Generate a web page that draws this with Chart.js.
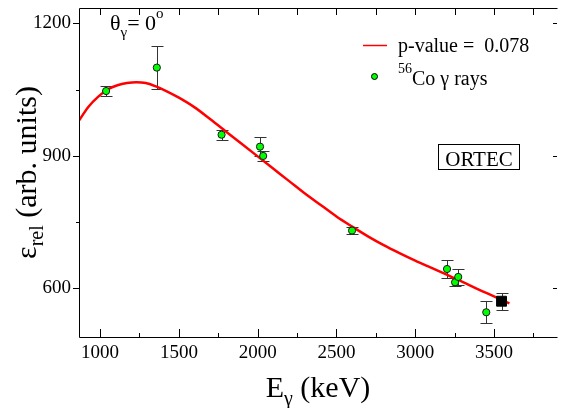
<!DOCTYPE html>
<html>
<head>
<meta charset="utf-8">
<script src="https://cdn.jsdelivr.net/npm/chart.js@4.4.0/dist/chart.umd.min.js"></script>
<style>
    html, body { margin: 0; padding: 0; background: #fff; }
    #wrap { width: 565px; height: 408px; }
    .fontprobe { position: absolute; left: -999px; top: 0; font-family: "Liberation Serif"; }
</style>
</head>
<body>
<span class="fontprobe">1200 ε γ θ ORTEC</span>
<div id="wrap"><canvas id="effChart" width="565" height="408"></canvas></div>
<script>
(function () {
    "use strict";

    // 56Co gamma lines (keV), relative efficiency and its error
    const coEnergies = [1038, 1360, 1771, 2015, 2035, 2599, 3202, 3253, 3273, 3451];
    const coValues   = [1047, 1100, 948, 921, 900, 731, 644, 614, 626, 546];
    const coErrors   = [11, 49, 11, 21, 12, 8, 20, 9, 18, 25];

    // black square point
    const refEnergies = [3548];
    const refValues   = [571];
    const refErrors   = [19];

    // fitted curve
    const fitEnergies = [866, 925, 990, 1050, 1110, 1170, 1230, 1290, 1350, 1420, 1500, 1600, 1700, 1800, 1900,
                         2000, 2100, 2200, 2300, 2400, 2500, 2600, 2700, 2800, 2900, 3000, 3100, 3200, 3300,
                         3400, 3500, 3598];
    const fitValues   = [980, 1011, 1035, 1051, 1060, 1065, 1067, 1065, 1058, 1047, 1032, 1010, 983, 955, 927,
                         899, 871, 843, 815, 789, 763, 740, 718, 698, 680, 663, 647, 631, 615,
                         598, 582, 566];

    const xTicks      = [1000, 1500, 2000, 2500, 3000, 3500];
    const xMinorTicks = [1250, 1750, 2250, 2750, 3250, 3750];
    const yTicks      = [600, 900, 1200];
    const yMinorTicks = [750, 1050];

    const SERIF = "'Liberation Serif', 'DejaVu Serif', serif";
    function font(size) { return size + "px " + SERIF; }

    function toPoints(xs, ys) {
        return xs.map((x, i) => ({ x: x, y: ys[i] }));
    }

    // draws a run of [text, size, yShift] pieces, starting at x or centred on it
    function drawRich(ctx, parts, x, y, centred) {
        let w = 0;
        parts.forEach(p => { ctx.font = font(p[1]); w += ctx.measureText(p[0]).width; });
        let cx = centred ? x - w / 2 : x;
        ctx.textAlign = "left";
        ctx.textBaseline = "alphabetic";
        parts.forEach(p => {
            ctx.font = font(p[1]);
            ctx.fillText(p[0], cx, y + p[2]);
            cx += ctx.measureText(p[0]).width;
        });
    }

    const errorBars = {
        id: "errorBars",
        beforeDatasetsDraw(chart) {
            const ctx = chart.ctx, xs = chart.scales.x, ys = chart.scales.y;
            ctx.save();
            ctx.strokeStyle = "#333";
            ctx.lineWidth = 1;
            function bar(e, v, err) {
                const x  = Math.round(xs.getPixelForValue(e)) + 0.5;
                const y1 = Math.round(ys.getPixelForValue(v + err)) + 0.5;
                const y2 = Math.round(ys.getPixelForValue(v - err)) + 0.5;
                ctx.beginPath();
                ctx.moveTo(x, y1); ctx.lineTo(x, y2);
                ctx.moveTo(x - 6, y1); ctx.lineTo(x + 6, y1);
                ctx.moveTo(x - 6, y2); ctx.lineTo(x + 6, y2);
                ctx.stroke();
            }
            coEnergies.forEach((e, i) => bar(e, coValues[i], coErrors[i]));
            refEnergies.forEach((e, i) => bar(e, refValues[i], refErrors[i]));
            ctx.restore();
        }
    };

    const frameAndText = {
        id: "frameAndText",
        afterDraw(chart) {
            const ctx = chart.ctx, ca = chart.chartArea;
            const xs = chart.scales.x, ys = chart.scales.y;
            ctx.save();
            ctx.strokeStyle = "#000";
            ctx.lineWidth = 1;

            // frame
            ctx.beginPath();
            ctx.moveTo(ca.right + 0.5, ca.top + 0.5);
            ctx.lineTo(ca.left + 0.5, ca.top + 0.5);
            ctx.lineTo(ca.left + 0.5, ca.bottom + 0.5);
            ctx.lineTo(ca.right + 0.5, ca.bottom + 0.5);
            ctx.stroke();

            // tick marks
            ctx.beginPath();
            xTicks.concat(xMinorTicks).forEach(v => {
                const x = Math.round(xs.getPixelForValue(v)) + 0.5;
                const len = xTicks.includes(v) ? 8 : 4;
                ctx.moveTo(x, ca.bottom); ctx.lineTo(x, ca.bottom - len);
                ctx.moveTo(x, ca.top); ctx.lineTo(x, ca.top + 7);
            });
            yTicks.concat(yMinorTicks).forEach(v => {
                const y = Math.round(ys.getPixelForValue(v)) + 0.5;
                const len = yTicks.includes(v) ? 6 : 3;
                ctx.moveTo(ca.left, y); ctx.lineTo(ca.left - len, y);
                if (yTicks.includes(v)) {
                    ctx.moveTo(ca.right, y); ctx.lineTo(ca.right - 4, y);
                }
            });
            ctx.stroke();

            ctx.fillStyle = "#000";

            // axis titles
            ctx.save();
            ctx.translate(36, (ca.top + ca.bottom) / 2);
            ctx.rotate(-Math.PI / 2);
            drawRich(ctx, [["ε", 30, 0], ["rel", 20, 7], [" (arb. units)", 30, 0]], 0, 0, true);
            ctx.restore();
            drawRich(ctx, [["E", 30, 0], ["γ", 20, 8], [" (keV)", 30, 0]], (ca.left + ca.right) / 2, 397, true);

            // angle label
            drawRich(ctx, [["θ", 22, 0], ["γ", 15, 7], ["= 0", 22, 0], ["o", 15, -12]], 110, 30, false);

            // legend
            ctx.strokeStyle = "#ff0000";
            ctx.lineWidth = 1.5;
            ctx.beginPath();
            ctx.moveTo(363, 45.5); ctx.lineTo(387, 45.5);
            ctx.stroke();
            drawRich(ctx, [["p-value =  0.078", 20, 0]], 398, 52, false);

            ctx.beginPath();
            ctx.arc(374.5, 76.5, 3, 0, Math.PI * 2);
            ctx.fillStyle = "#00ff00";
            ctx.fill();
            ctx.strokeStyle = "#000";
            ctx.lineWidth = 1;
            ctx.stroke();
            ctx.fillStyle = "#000";
            drawRich(ctx, [["56", 14, -12], ["Co γ rays", 20, 0]], 398, 85, false);

            // detector box
            ctx.strokeRect(438.5, 144.5, 81, 25);
            drawRich(ctx, [["ORTEC", 21, 0]], 479, 166, true);

            ctx.restore();
        }
    };

    function renderChart() {
        Chart.defaults.font.family = SERIF;
        const ctx = document.getElementById("effChart").getContext("2d");
        new Chart(ctx, {
            type: "scatter",
            data: {
                datasets: [
                    {
                        label: "56Co γ rays",
                        data: toPoints(coEnergies, coValues),
                        pointRadius: 3.6,
                        pointBackgroundColor: "#00ff00",
                        pointBorderColor: "#1a1a1a",
                        pointBorderWidth: 1,
                        order: 0
                    },
                    {
                        label: "reference",
                        data: toPoints(refEnergies, refValues),
                        pointStyle: "rect",
                        pointRadius: 7,
                        pointBackgroundColor: "#000",
                        pointBorderColor: "#000",
                        order: 0
                    },
                    {
                        type: "line",
                        label: "p-value = 0.078",
                        data: toPoints(fitEnergies, fitValues),
                        borderColor: "#ff0000",
                        borderWidth: 2.5,
                        pointRadius: 0,
                        fill: false,
                        cubicInterpolationMode: "monotone",
                        order: 2
                    }
                ]
            },
            options: {
                responsive: false,
                animation: false,
                layout: { padding: 0 },
                plugins: { legend: { display: false }, tooltip: { enabled: false } },
                scales: {
                    x: {
                        type: "linear",
                        min: 866,
                        max: 3900,
                        grid: { display: false, drawTicks: false },
                        border: { display: false },
                        afterBuildTicks: s => { s.ticks = xTicks.map(v => ({ value: v })); },
                        afterFit: s => { s.height = 71; s.paddingLeft = 0; s.paddingRight = 0; },
                        ticks: {
                            color: "#000", font: { family: SERIF, size: 19 }, padding: 5,
                            maxRotation: 0, autoSkip: false, callback: v => String(v)
                        }
                    },
                    y: {
                        type: "linear",
                        min: 490,
                        max: 1235,
                        grid: { display: false, drawTicks: false },
                        border: { display: false },
                        afterBuildTicks: s => { s.ticks = yTicks.map(v => ({ value: v })); },
                        afterFit: s => { s.width = 79; s.paddingTop = 0; s.paddingBottom = 0; },
                        ticks: {
                            color: "#000", font: { family: SERIF, size: 19 }, padding: 8,
                            autoSkip: false, callback: v => String(v)
                        }
                    }
                }
            },
            plugins: [errorBars, frameAndText]
        });
    }

    function start() {
        if (document.fonts && document.fonts.load) {
            Promise.all([
                document.fonts.load("20px 'Liberation Serif'"),
                document.fonts.load("20px 'DejaVu Serif'")
            ]).then(renderChart, renderChart);
        } else {
            renderChart();
        }
    }

    if (document.readyState === "loading") {
        document.addEventListener("DOMContentLoaded", start);
    } else {
        start();
    }
})();
</script>
</body>
</html>
